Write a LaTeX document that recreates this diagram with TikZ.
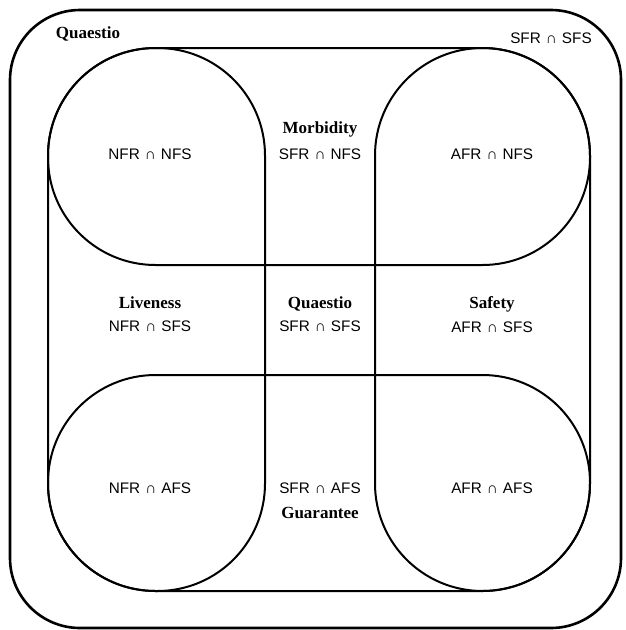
\documentclass[tikz,border=0pt]{standalone}
\usepackage{fontspec}
\setmainfont{Liberation Serif}
\setsansfont{Liberation Sans}
\newcommand{\isect}{\hspace{0.33em}∩\hspace{0.33em}}
\begin{document}
\begin{tikzpicture}[
    x=1pt, y=-1pt,
    frame/.style={line width=2.6pt, rounded corners=70pt},
    region/.style={line width=2pt, rounded corners=107.5pt},
    title/.style={anchor=base, font=\fontsize{17}{20}\selectfont\bfseries},
    inter/.style={anchor=base, font=\fontsize{15.3}{18}\selectfont\sffamily}
]
\useasboundingbox (0,0) rectangle (625,630);
% outer frame
\draw[frame] (10,10) rectangle (621,628);
% NFR, AFR (vertical) and NFS, AFS (horizontal)
\draw[region] (48,48) rectangle (265,591);
\draw[region] (375,48) rectangle (590,591);
\draw[region] (48,48) rectangle (590,265);
\draw[region] (48,375) rectangle (590,591);

\node[title] (outertitle) at (88,38) {Quaestio};
\node[inter] (outerset) at (551,43) {SFR\isect SFS};

\node[inter] (nfrnfs) at (150,159) {NFR\isect NFS};
\node[title] (morbidity) at (320,133) {Morbidity};
\node[inter] (sfrnfs) at (320,159) {SFR\isect NFS};
\node[inter] (afrnfs) at (492,159) {AFR\isect NFS};

\node[title] (liveness) at (150,308) {Liveness};
\node[inter] (nfrsfs) at (150,331) {NFR\isect SFS};
\node[title] (quaestio) at (320,308) {Quaestio};
\node[inter] (sfrsfs) at (320,331) {SFR\isect SFS};
\node[title] (safety) at (492,308) {Safety};
\node[inter] (afrsfs) at (492,332) {AFR\isect SFS};

\node[inter] (nfrafs) at (150,493) {NFR\isect AFS};
\node[inter] (sfrafs) at (320,493) {SFR\isect AFS};
\node[title] (guarantee) at (320,518) {Guarantee};
\node[inter] (afrafs) at (492,493) {AFR\isect AFS};
\end{tikzpicture}
\end{document}
